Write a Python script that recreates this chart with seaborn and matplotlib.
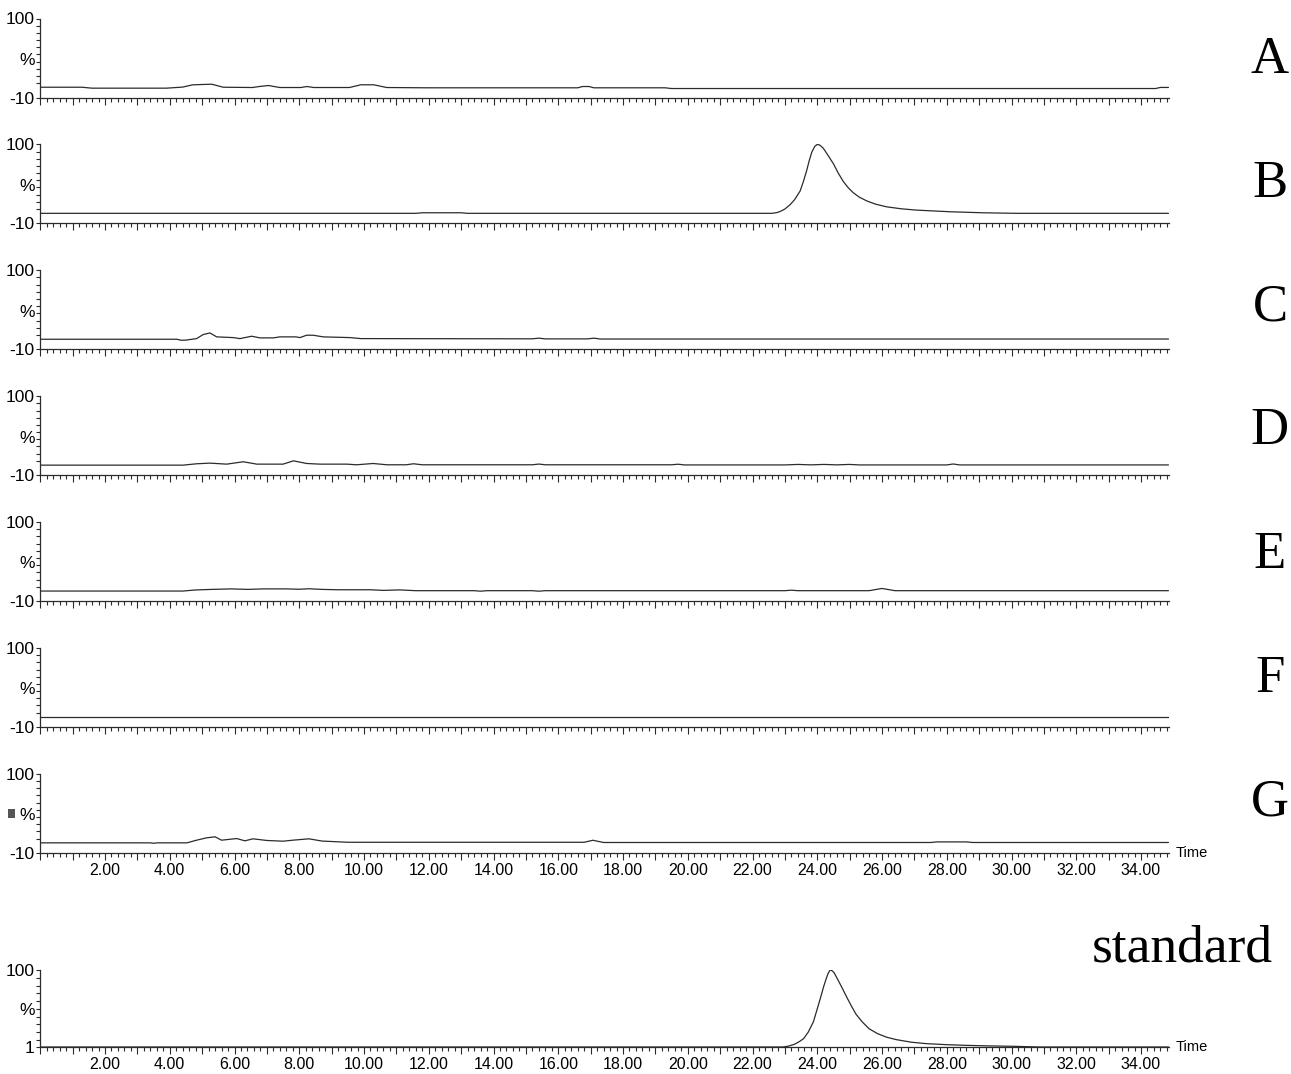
import numpy as np
import pandas as pd
import matplotlib
matplotlib.use("Agg")
import matplotlib.pyplot as plt
from matplotlib.ticker import MultipleLocator, FixedLocator, FuncFormatter
from matplotlib.patches import Rectangle
import seaborn as sns

# chromatogram traces (time in min, relative intensity in %)
time_A = [0.0, 1.3, 1.45, 1.6, 3.9, 4.4, 4.7, 5.0, 5.3, 5.65, 6.55, 6.8, 7.05, 7.4, 8.05, 8.24, 8.45,
          9.55, 9.9, 10.3, 10.7, 11.95, 12.2, 16.6, 16.75, 16.95, 17.1, 19.3, 19.4, 19.5, 34.45, 34.6, 34.85]
int_A = [4.3, 4.3, 3.6, 3.0, 3.0, 4.5, 7.6, 8.1, 8.5, 4.3, 3.9, 5.5, 6.7, 3.9, 3.9, 5.3, 3.9,
         3.9, 7.7, 7.7, 3.9, 3.5, 3.5, 3.5, 5.3, 5.3, 3.5, 3.5, 3.0, 2.5, 2.5, 4.0, 4.0]

time_B = [0.0, 11.6, 11.8, 13.0, 13.2, 22.59, 22.75, 22.85, 23.0, 23.16, 23.3, 23.47, 23.57, 23.67,
          23.75, 23.83, 23.92, 24.0, 24.08, 24.19, 24.3, 24.4, 24.5, 24.65, 24.8, 24.95, 25.11,
          25.3, 25.53, 25.8, 26.14, 26.6, 27.07, 28.1, 29.1, 30.16, 34.85]
int_B = [4.0, 4.0, 4.8, 4.8, 4.0, 4.0, 5.0, 6.5, 10.0, 16.0, 23.0, 35.0, 48.0, 63.0,
         77.0, 89.0, 97.0, 100.0, 99.0, 94.5, 87.0, 80.0, 73.0, 60.0, 48.7, 40.0, 32.8,
         26.5, 21.3, 16.8, 13.1, 10.3, 8.5, 6.2, 4.8, 4.0, 4.0]

time_C = [0.0, 4.22, 4.35, 4.5, 4.83, 5.03, 5.24, 5.45, 5.96, 6.17, 6.53, 6.79, 7.2, 7.4, 7.9, 8.02,
          8.23, 8.43, 8.74, 9.57, 9.9, 15.2, 15.4, 15.6, 16.9, 17.1, 17.3, 34.85]
int_C = [4.0, 4.0, 2.6, 2.8, 4.9, 10.5, 12.8, 7.3, 6.3, 4.9, 8.2, 5.9, 5.9, 7.3, 7.3, 6.3,
         9.6, 9.6, 7.3, 6.3, 4.9, 4.6, 5.5, 4.5, 4.5, 5.5, 4.3, 4.3]

time_D = [0.0, 4.41, 4.83, 5.24, 5.76, 6.27, 6.69, 7.5, 7.82, 8.23, 8.64, 9.47, 9.77, 10.28, 10.71,
          11.3, 11.53, 11.8, 15.2, 15.4, 15.6, 19.5, 19.7, 19.9, 23.0, 23.4, 23.8, 24.2, 24.6, 25.0,
          25.3, 28.0, 28.2, 28.4, 34.85]
int_D = [4.0, 4.0, 5.9, 6.8, 5.4, 8.7, 5.4, 5.4, 10.0, 6.3, 5.4, 5.4, 4.5, 6.3, 4.5,
         4.5, 5.9, 4.5, 4.5, 5.5, 4.5, 4.5, 5.3, 4.3, 4.3, 5.0, 4.4, 5.0, 4.4, 5.0,
         4.3, 4.3, 5.6, 4.3, 4.3]

time_E = [0.0, 4.4, 4.8, 5.3, 5.9, 6.4, 6.9, 7.6, 8.0, 8.3, 8.7, 9.2, 10.2, 10.6, 11.1, 11.6, 13.4,
          13.6, 13.8, 15.2, 15.4, 15.6, 23.0, 23.2, 23.4, 25.6, 26.0, 26.4, 34.85]
int_E = [4.0, 4.0, 5.5, 6.3, 7.0, 6.3, 7.0, 7.0, 6.5, 7.2, 6.3, 5.8, 5.8, 4.9, 5.6, 4.5, 4.5,
         3.8, 4.5, 4.5, 3.8, 4.5, 4.5, 5.2, 4.5, 4.5, 7.6, 4.5, 4.5]

time_F = [0.0, 34.85]
int_F = [3.5, 3.5]

time_G = [0.0, 3.4, 3.5, 3.6, 4.53, 4.83, 5.14, 5.4, 5.6, 6.07, 6.32, 6.57, 7.0, 7.5, 7.8, 8.3, 8.7,
          9.5, 16.8, 17.07, 17.4, 27.5, 27.7, 28.6, 28.8, 34.85]
int_G = [4.0, 4.0, 3.4, 4.0, 4.0, 7.7, 11.0, 12.4, 7.7, 10.0, 6.8, 9.6, 7.3, 6.3, 7.7, 9.6, 6.5,
         4.8, 4.8, 7.6, 4.5, 4.5, 5.3, 5.3, 4.5, 4.5]

time_std = [0.0, 22.94, 23.1, 23.29, 23.45, 23.58, 23.72, 23.88, 24.0, 24.11, 24.2, 24.28, 24.34,
            24.40, 24.46, 24.52, 24.63, 24.75, 24.9, 25.04, 25.2, 25.39, 25.6, 25.86, 26.15, 26.44,
            26.9, 27.37, 28.0, 28.54, 29.3, 30.05, 30.87, 34.85]
int_std = [1.0, 1.0, 2.0, 4.4, 8.0, 11.8, 20.0, 33.3, 50.0, 65.6, 79.0, 89.2, 96.0,
           100.0, 99.0, 96.6, 88.0, 78.5, 66.0, 54.8, 43.0, 33.3, 24.5, 18.2, 13.5, 10.5,
           7.2, 5.3, 4.0, 3.2, 2.4, 1.9, 1.0, 1.0]

panel_names = ["A", "B", "C", "D", "E", "F", "G"]
panel_times = [time_A, time_B, time_C, time_D, time_E, time_F, time_G]
panel_ints = [int_A, int_B, int_C, int_D, int_E, int_F, int_G]

sns.set_style("ticks")
plt.rcParams["font.family"] = ["Liberation Sans", "DejaVu Sans"]
plt.rcParams["text.color"] = "black"

W, H = 1291, 1074
fig = plt.figure(figsize=(W / 100, H / 100), dpi=100)
ink = "#2b2b2b"
x_max = 34.85
px_per_min = 32.375
left = 40.25 / W
width = x_max * px_per_min / W


def fmt_time(v, pos):
    if abs(v - round(v)) < 1e-6 and int(round(v)) % 2 == 0 and v > 0:
        return f"{v:.2f}"
    return ""


def style_axis(ax, ymin, show_labels):
    ax.set_xlim(0, x_max)
    ax.set_ylim(ymin, 100)
    for s in ["top", "right"]:
        ax.spines[s].set_visible(False)
    for s in ["left", "bottom"]:
        ax.spines[s].set_color(ink)
        ax.spines[s].set_linewidth(0.9)
    ax.xaxis.set_major_locator(MultipleLocator(1))
    ax.xaxis.set_minor_locator(MultipleLocator(0.2))
    ax.xaxis.set_major_formatter(FuncFormatter(fmt_time))
    ax.yaxis.set_major_locator(FixedLocator([ymin, 100]))
    ax.yaxis.set_minor_locator(FixedLocator(list(range(10, 100, 10))))
    ax.set_yticklabels([f"{ymin:g}", "100"])
    ax.tick_params(axis="x", which="major", length=5, width=0.8, color=ink, direction="out",
                   labelsize=11.5, labelcolor="black", pad=2, labelbottom=show_labels)
    ax.tick_params(axis="x", which="minor", length=3, width=0.8, color=ink, direction="out")
    ax.tick_params(axis="y", which="major", length=3, width=0.8, color=ink, direction="out",
                   labelsize=12.5, labelcolor="black", pad=1)
    ax.tick_params(axis="y", which="minor", length=3, width=0.8, color=ink, direction="out")
    ax.set_xlabel("")
    ax.set_ylabel("")
    ax.text(-0.005, 0.47, "%", transform=ax.transAxes, ha="right", va="center", fontsize=12.5)


for k, (name, t, v) in enumerate(zip(panel_names, panel_times, panel_ints)):
    bot = 97.5 + 125.9 * k
    top = bot - 79
    ax = fig.add_axes([left, 1 - bot / H, width, (bot - top) / H])
    df = pd.DataFrame({"time": t, "intensity": v})
    sns.lineplot(data=df, x="time", y="intensity", ax=ax, color=ink, linewidth=0.9, sort=False)
    style_axis(ax, -10, name == "G")
    if name == "G":
        ax.text(1.006, 0.0, "Time", transform=ax.transAxes, ha="left", va="center", fontsize=10.5)
    fig.text(1270 / W, 1 - (73 + 123.7 * k) / H, name, ha="center", va="baseline",
             family="Liberation Serif", fontsize=38)

# standard trace
ax = fig.add_axes([left, 1 - 1047 / H, width, 77 / H])
df_std = pd.DataFrame({"time": time_std, "intensity": int_std})
sns.lineplot(data=df_std, x="time", y="intensity", ax=ax, color=ink, linewidth=0.9, sort=False)
style_axis(ax, 1, True)
ax.text(1.006, 0.0, "Time", transform=ax.transAxes, ha="left", va="center", fontsize=10.5)
fig.text(1273 / W, 1 - 962 / H, "standard", ha="right", va="baseline",
         family="Liberation Serif", fontsize=38.5)

# little marker square left of panel G
fig.patches.append(Rectangle((8 / W, 1 - 818 / H), 7 / W, 9 / H, transform=fig.transFigure,
                             facecolor="#555555", edgecolor="none"))

fig.savefig("out.png", dpi=100, facecolor="white")
